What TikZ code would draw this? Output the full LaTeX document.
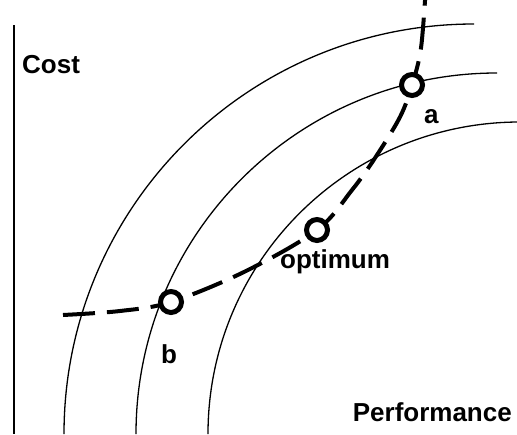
\documentclass[tikz,border=0pt]{standalone}
\usepackage{fontspec}
\setmainfont{Liberation Sans}
\begin{document}
\begin{tikzpicture}[x=1pt,y=-1pt,
  lbl/.style={inner sep=0pt, anchor=base west, font=\fontsize{26}{31}\selectfont\bfseries},
  curve/.style={line width=1.3pt},
  ring/.style={circle, draw, line width=5pt, fill=white, minimum size=21pt, inner sep=0pt},
  track/.style={line width=4pt, dash pattern=on 32pt off 12pt}]
\useasboundingbox (0,0) rectangle (517,434);
\clip (0,0) rectangle (517,434);
% axis
\draw[line width=1.5pt] (14,25) -- (14,434);
% iso curves
\draw[curve] (64,434) arc[start angle=180, end angle=90, radius=410pt];
\draw[curve] (136,434) arc[start angle=180, end angle=90, radius=361pt];
\draw[curve] (208,434) arc[start angle=180, end angle=90, radius=312pt];
% positions
\coordinate (pb) at (171,302);
\coordinate (popt) at (317,230);
\coordinate (pa) at (412,85);
% dashed trade-off curve
\draw[track] plot[smooth, tension=0.55] coordinates {(63,315) (120,311) (pb) (245,271.5) (popt) (352,190) (375,158) (400,117) (pa) (421,48) (426,-15)};
% markers
\node[ring] (b) at (pb) {};
\node[ring] (opt) at (popt) {};
\node[ring] (a) at (pa) {};
% labels
\node[lbl] (cost) at (22,73.5) {Cost};
\node[lbl, anchor=base east] (perf) at (512,421) {Performance};
\node[lbl] (lopt) at (280,268) {optimum};
\node[lbl] (la) at (424,123) {a};
\node[lbl] (lb) at (161,363) {b};
\end{tikzpicture}
\end{document}
